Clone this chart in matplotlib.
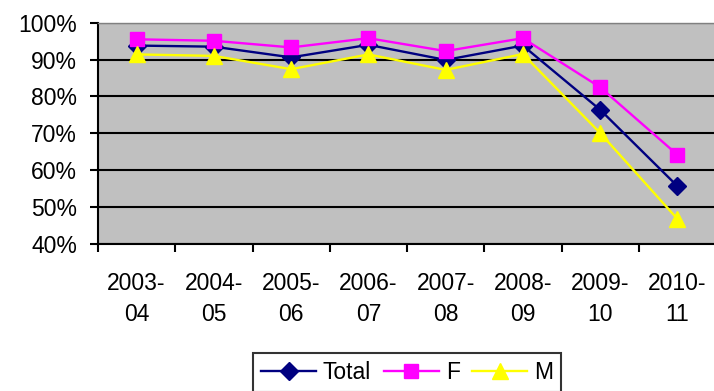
import numpy as np
import matplotlib
matplotlib.use('Agg')
import matplotlib.pyplot as plt
from matplotlib.ticker import FuncFormatter

plt.rcParams['font.family'] = ['Liberation Sans', 'DejaVu Sans']

years = ['2003-\n04', '2004-\n05', '2005-\n06', '2006-\n07', '2007-\n08', '2008-\n09', '2009-\n10', '2010-\n11']
total = [93.8, 93.5, 90.6, 94.0, 89.9, 93.8, 76.4, 55.7]
female = [95.5, 95.1, 93.3, 95.8, 92.3, 95.8, 82.5, 64.2]
male = [91.4, 91.0, 87.4, 91.4, 87.2, 91.5, 70.1, 46.8]

fig = plt.figure(figsize=(7.14, 3.91), dpi=100)
ax = fig.add_axes([98 / 714, 147 / 391, 618 / 714, 221.3 / 391])
ax.set_facecolor('#C0C0C0')

x = np.arange(len(years))
ax.plot(x, total, color='#000080', lw=1.7, marker='D', ms=9, label='Total', zorder=3)
ax.plot(x, female, color='#FF00FF', lw=1.7, marker='s', ms=10, label='F', zorder=3)
ax.plot(x, male, color='#FFFF00', lw=1.7, marker='^', ms=11, label='M', zorder=3)

ax.set_ylim(40, 100)
ax.set_yticks(np.arange(40, 101, 10))
ax.yaxis.set_major_formatter(FuncFormatter(lambda v, p: '%d%%' % v))
ax.grid(axis='y', color='black', lw=1.5, zorder=1)
ax.set_axisbelow(True)

# category labels sit between the boundary ticks
ax.set_xlim(-0.5, len(years) - 0.5)
ax.set_xticks(np.arange(-0.5, len(years), 1.0))
ax.set_xticklabels([])
ax.set_xticks(x, minor=True)
ax.set_xticklabels(years, minor=True, linespacing=1.45)
ax.tick_params(axis='x', which='minor', length=0, pad=20, labelsize=16.5)
ax.tick_params(axis='x', which='major', length=6, width=1.5, direction='out')
ax.tick_params(axis='y', length=6, width=1.5, direction='out', pad=9, labelsize=16.5)

for side in ['left', 'bottom']:
    ax.spines[side].set_color('black')
    ax.spines[side].set_linewidth(1.5)
for side in ['top', 'right']:
    ax.spines[side].set_color('#808080')
    ax.spines[side].set_linewidth(1.0)

leg = fig.legend(loc='upper left', bbox_to_anchor=(253 / 714, 38 / 391), ncol=3,
                 fontsize=16.5, frameon=True, fancybox=False, edgecolor='black',
                 handlelength=2.4, handletextpad=0.3, columnspacing=0.55,
                 borderpad=0.35, borderaxespad=0)
leg.get_frame().set_linewidth(1.5)

fig.savefig('out.png', dpi=100)
